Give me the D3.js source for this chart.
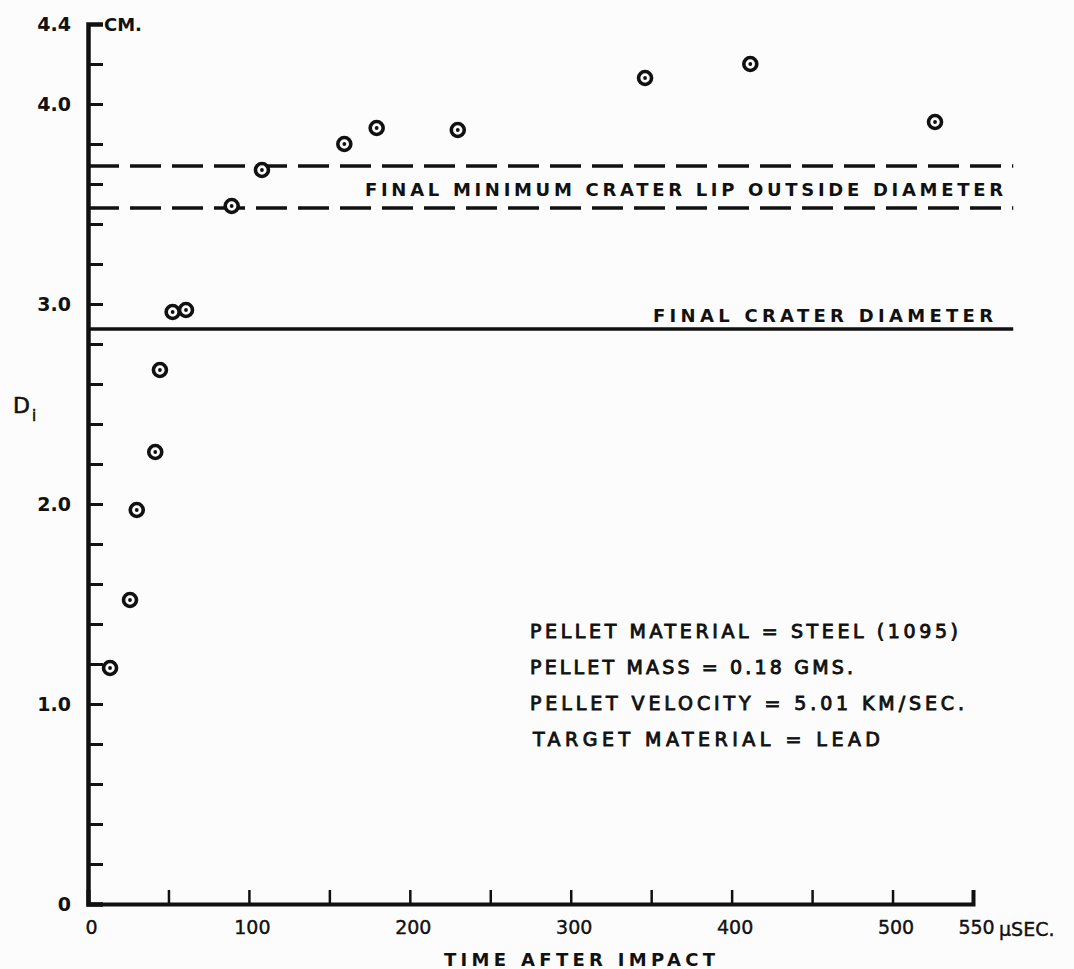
<!DOCTYPE html>
<html>
<head>
<meta charset="utf-8">
<script src="https://cdn.jsdelivr.net/npm/d3@7"></script>
<style>
  body { margin: 0; background: #fcfcfc; }
  svg { display: block; }
  text { font-family: "DejaVu Sans", sans-serif; fill: #111; }
  .axis path, .axis line { stroke: #111; }
  .axis text { font-size: 19px; }
</style>
</head>
<body>
<div id="chart"></div>
<script>
// time after impact (microseconds) and crater diameter Di (cm)
var timeValues = [13.7, 26.1, 30.3, 41.8, 44.7, 52.6, 60.9, 89.3, 108.1, 159.3, 179.4, 229.8, 346.2, 411.6, 526.4];
var diameterValues = [1.18, 1.52, 1.97, 2.26, 2.67, 2.96, 2.97, 3.49, 3.67, 3.80, 3.88, 3.87, 4.13, 4.20, 3.91];

// reference levels
var lipDiameters = [3.69, 3.48];
var craterDiameter = 2.875;

var xTicks = [0, 50, 100, 150, 200, 250, 300, 350, 400, 450, 500, 550];
var xLabels = { 0: '0', 100: '100', 200: '200', 300: '300', 400: '400', 500: '500', 550: '550' };
var yTicks = d3.range(0, 23).map(function (i) { return +(i * 0.2).toFixed(1); });
var yLabels = { 0: '0', 1: '1.0', 2: '2.0', 3: '3.0', 4: '4.0', 4.4: '4.4' };

var infoLines = [
    'PELLET MATERIAL = STEEL (1095)',
    'PELLET MASS = 0.18 GMS.',
    'PELLET VELOCITY = 5.01 KM/SEC.',
    'TARGET MATERIAL = LEAD'
];
var infoWidths = [428, 323, 434, 347];

var width = 1074, height = 969;

var svg = d3.select('#chart').append('svg')
    .attr('width', width)
    .attr('height', height);

var x = d3.scaleLinear().domain([0, 550]).range([88, 973]);
var y = d3.scaleLinear().domain([0, 4.4]).range([904, 24]);

// y axis, ticks pointing inward
var yAxis = svg.append('g')
    .attr('class', 'axis')
    .attr('transform', 'translate(' + x(0) + ',0)')
    .call(d3.axisLeft(y)
        .tickValues(yTicks)
        .tickSize(-15)
        .tickPadding(17)
        .tickFormat(function (d) { return yLabels[d] || ''; }));
yAxis.select('.domain').attr('stroke-width', 4.5);
yAxis.selectAll('.tick line').attr('stroke-width', 3);
yAxis.selectAll('.tick text').attr('font-weight', 'bold').attr('font-size', 19);

// x axis, ticks pointing up
var xAxis = svg.append('g')
    .attr('class', 'axis')
    .attr('transform', 'translate(0,' + y(0) + ')')
    .call(d3.axisBottom(x)
        .tickValues(xTicks)
        .tickSize(-14)
        .tickPadding(17)
        .tickFormat(function (d) { return xLabels[d] || ''; }));
xAxis.select('.domain').attr('stroke-width', 4);
xAxis.selectAll('.tick line').attr('stroke-width', 2.5);
xAxis.selectAll('.tick text')
    .attr('dx', 3)
    .attr('stroke', '#111')
    .attr('stroke-width', 0.4);

svg.append('text')
    .attr('x', x(550) + 26)
    .attr('y', y(0) + 32)
    .attr('font-size', 19)
    .attr('stroke', '#111')
    .attr('stroke-width', 0.4)
    .text('\u03bcSEC.');

svg.append('text')
    .attr('x', 104)
    .attr('y', 31)
    .attr('font-size', 18)
    .attr('font-weight', 'bold')
    .text('CM.');

// Di label
var di = svg.append('text')
    .attr('x', 13)
    .attr('y', 413)
    .attr('font-size', 22)
    .attr('stroke', '#111')
    .attr('stroke-width', 0.6);
di.append('tspan').text('D');
di.append('tspan').attr('font-size', 15).attr('dy', 8).attr('dx', 2).text('i');

svg.append('text')
    .attr('x', 444)
    .attr('y', 966)
    .attr('font-size', 18)
    .attr('font-weight', 'bold')
    .attr('textLength', 271)
    .attr('lengthAdjust', 'spacing')
    .text('TIME AFTER IMPACT');

// reference lines
svg.selectAll('line.lip')
    .data(lipDiameters)
    .enter().append('line')
    .attr('class', 'lip')
    .attr('x1', x(0)).attr('x2', x(575))
    .attr('y1', function (d) { return y(d); })
    .attr('y2', function (d) { return y(d); })
    .attr('stroke', '#111')
    .attr('stroke-width', 3.5)
    .attr('stroke-dasharray', '31,11');

svg.append('line')
    .attr('x1', x(0)).attr('x2', x(575))
    .attr('y1', y(craterDiameter)).attr('y2', y(craterDiameter))
    .attr('stroke', '#111')
    .attr('stroke-width', 3.5);

svg.append('text')
    .attr('x', 365)
    .attr('y', y(d3.mean(lipDiameters)) + 9)
    .attr('font-size', 18)
    .attr('font-weight', 'bold')
    .attr('textLength', 638)
    .attr('lengthAdjust', 'spacing')
    .text('FINAL MINIMUM CRATER LIP OUTSIDE DIAMETER');

svg.append('text')
    .attr('x', 653)
    .attr('y', y(craterDiameter) - 7)
    .attr('font-size', 18)
    .attr('font-weight', 'bold')
    .attr('textLength', 340)
    .attr('lengthAdjust', 'spacing')
    .text('FINAL CRATER DIAMETER');

// data points: ring with a dot in the middle
var points = svg.selectAll('g.point')
    .data(timeValues.map(function (t, i) { return [t, diameterValues[i]]; }))
    .enter().append('g')
    .attr('class', 'point')
    .attr('transform', function (d) {
        return 'translate(' + x(d[0]) + ',' + y(d[1]) + ')';
    });
points.append('circle')
    .attr('r', 6.5)
    .attr('fill', '#fcfcfc')
    .attr('stroke', '#111')
    .attr('stroke-width', 3.6);
points.append('circle')
    .attr('r', 1.9)
    .attr('fill', '#111');

// pellet info block
svg.selectAll('text.info')
    .data(infoLines)
    .enter().append('text')
    .attr('class', 'info')
    .attr('x', function (d, i) { return i === 3 ? 533 : 530; })
    .attr('y', function (d, i) { return 638 + i * 36; })
    .attr('font-size', 19)
    .attr('stroke', '#111')
    .attr('stroke-width', 0.9)
    .attr('textLength', function (d, i) { return infoWidths[i]; })
    .attr('lengthAdjust', 'spacing')
    .text(function (d) { return d; });
</script>
</body>
</html>
